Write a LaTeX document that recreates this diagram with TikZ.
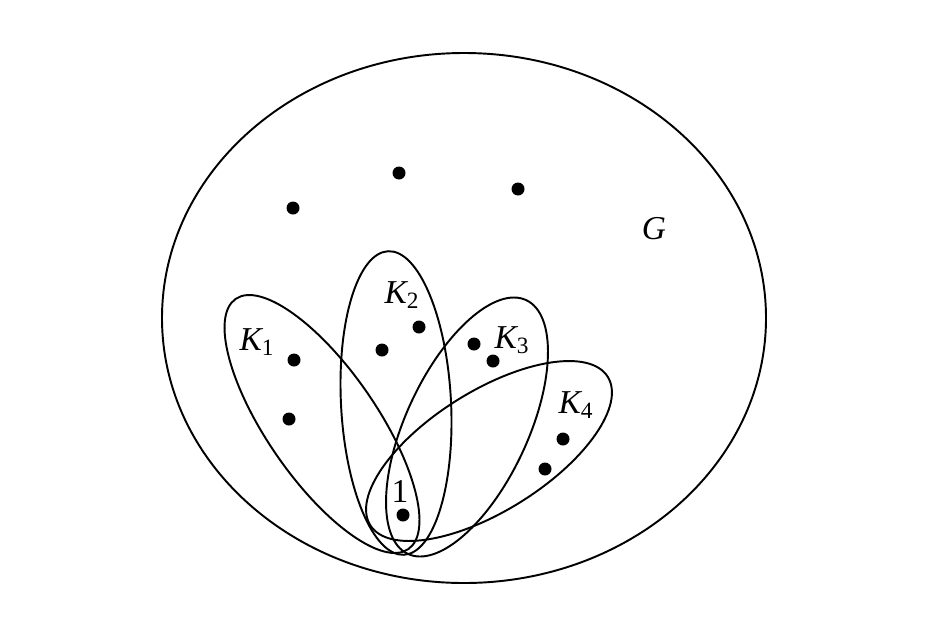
\documentclass[tikz,border=0pt]{standalone}
\usepackage{fontspec}
\setmainfont{Liberation Serif}
\tikzset{
    vertex/.style={circle, fill, inner sep=0pt, minimum size=0.26cm}, % the black points
    setname/.style={font=\fontsize{19}{22}\selectfont\itshape, inner sep=0pt},
    petal/.style={line width=1.1pt},
}
\newcommand{\Kset}[1]{K\textsubscript{\upshape #1}}

\begin{document}
\begin{tikzpicture}[x=0.02cm, y=-0.02cm, line width=1.1pt]
    \useasboundingbox (0,0) rectangle (942,629);
    % the graph G
    \draw (464,318) ellipse [x radius=302, y radius=265];
    \node[setname] (G) at (654,229) {G};
    \node[vertex] (t1) at (293,208) {};
    \node[vertex] (t2) at (399,173) {};
    \node[vertex] (t3) at (518,189) {};

    % the four petals through vertex 1
    \draw[petal, rotate around={-55.4:(322,424)}] (322,424) ellipse [x radius=152, y radius=55];
    \draw[petal, rotate around={93:(396,403)}] (396,403) ellipse [x radius=152, y radius=55];
    \draw[petal, rotate around={65:(467,427)}] (467,427) ellipse [x radius=140, y radius=61];
    \draw[petal, rotate around={32:(489,451)}] (489,451) ellipse [x radius=140, y radius=60];

    \node[setname] (k1) at (257,342) {\Kset{1}};
    \node[setname] (k2) at (402,295) {\Kset{2}};
    \node[setname] (k3) at (512,340) {\Kset{3}};
    \node[setname] (k4) at (576,405) {\Kset{4}};

    \node[vertex] (a1) at (294,360) {};
    \node[vertex] (a2) at (289,419) {};
    \node[vertex] (b1) at (382,350) {};
    \node[vertex] (b2) at (419,327) {};
    \node[vertex] (c1) at (474,344) {};
    \node[vertex] (c2) at (493,361) {};
    \node[vertex] (d1) at (563,439) {};
    \node[vertex] (d2) at (545,469) {};

    \node[vertex] (v1) at (403,515) {};
    \node[setname, font=\fontsize{19}{22}\selectfont] (one) at (400,491) {1};
\end{tikzpicture}
\end{document}
